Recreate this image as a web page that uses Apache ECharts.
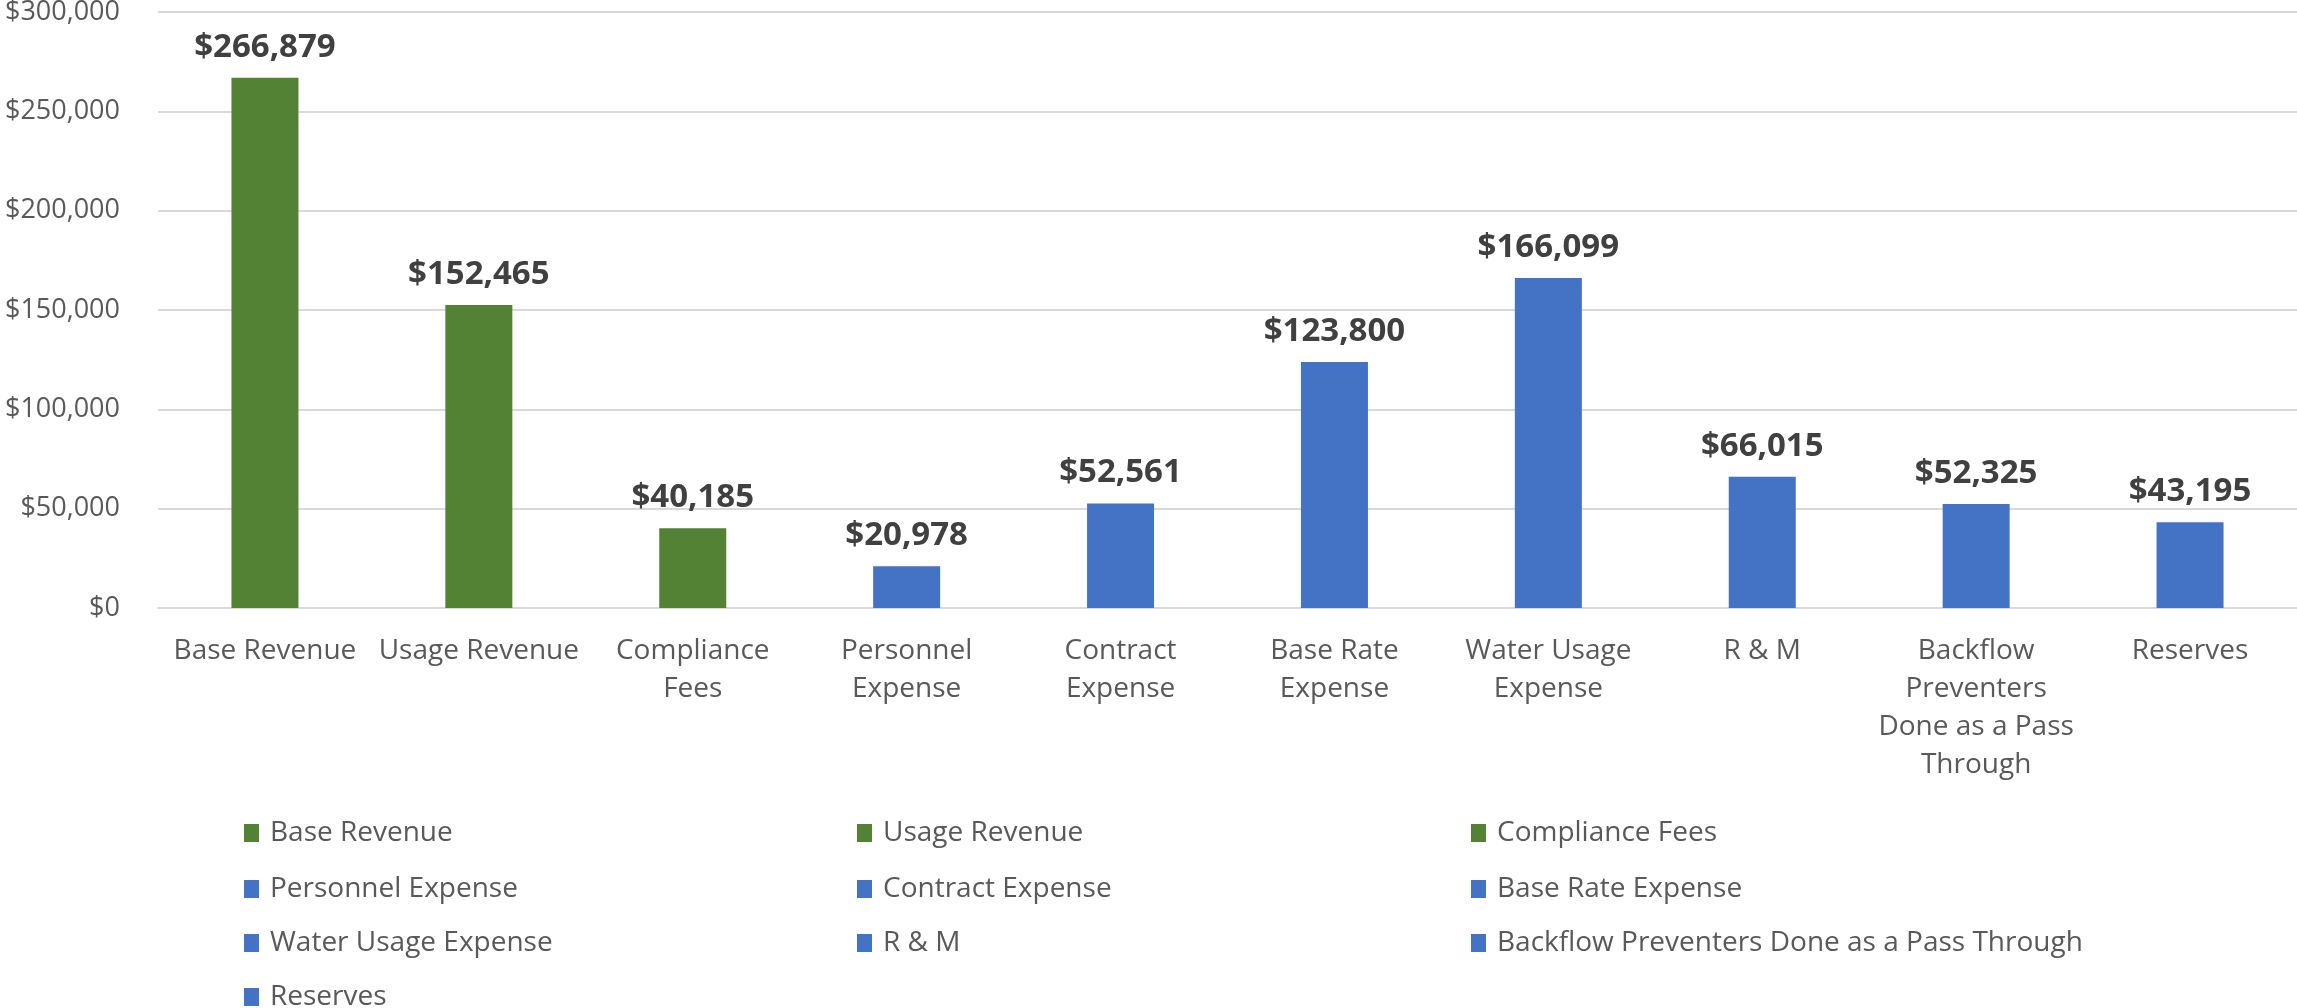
<!DOCTYPE html>
<html>
<head>
<meta charset="utf-8">
<script src="https://cdn.jsdelivr.net/npm/echarts@6/dist/echarts.min.js"></script>
<style>
  html, body { margin: 0; padding: 0; background: #fff; }
  #chart { width: 2297px; height: 1008px; }
</style>
</head>
<body>
<div id="chart"></div>
<script>
const categories = ['Base Revenue', 'Usage Revenue', 'Compliance Fees', 'Personnel Expense',
  'Contract Expense', 'Base Rate Expense', 'Water Usage Expense', 'R & M',
  'Backflow Preventers Done as a Pass Through', 'Reserves']
const tickLabels = ['Base Revenue', 'Usage Revenue', 'Compliance\nFees', 'Personnel\nExpense',
  'Contract\nExpense', 'Base Rate\nExpense', 'Water Usage\nExpense', 'R & M',
  'Backflow\nPreventers\nDone as a Pass\nThrough', 'Reserves']
const amounts = [266879, 152465, 40185, 20978, 52561, 123800, 166099, 66015, 52325, 43195]
const groups = ['revenue', 'revenue', 'revenue', 'expense', 'expense', 'expense', 'expense', 'expense', 'expense', 'expense']

const groupColor = { revenue: '#548235', expense: '#4472C4' }
const fontFamily = '"Open Sans", sans-serif'
const money = v => '$' + Math.round(v).toLocaleString('en-US')

// legend laid out as 3 columns like the original
const legendCols = [239, 852, 1466]
const legendRows = [814, 870, 924, 978]

const chart = echarts.init(document.getElementById('chart'))

const series = categories.map((name, i) => ({
  name,
  type: 'bar',
  stack: 'one',
  barWidth: 67,
  data: amounts.map((v, j) => (j === i ? v : null)),
  itemStyle: { color: groupColor[groups[i]] },
  label: {
    show: true,
    position: 'top',
    distance: 14,
    formatter: p => money(p.value),
    fontFamily,
    fontSize: 33,
    fontWeight: 'bold',
    color: '#404040'
  }
}))

const legends = categories.map((name, i) => ({
  data: [name],
  left: legendCols[i % 3],
  top: legendRows[Math.floor(i / 3)],
  itemWidth: 15,
  itemHeight: 18,
  icon: 'rect',
  selectedMode: false,
  textStyle: { fontFamily, fontSize: 28, color: '#595959', padding: [0, 0, 0, 6] }
}))

chart.setOption({
  animation: false,
  backgroundColor: '#fff',
  legend: legends,
  grid: { left: 158, right: 0, top: 12, bottom: 400, containLabel: false, outerBoundsMode: 'none' },
  xAxis: {
    type: 'category',
    data: categories,
    axisLine: { lineStyle: { color: '#D9D9D9', width: 2 } },
    axisTick: { show: false },
    axisLabel: {
      formatter: (v, i) => tickLabels[i],
      fontFamily,
      fontSize: 28,
      lineHeight: 38,
      color: '#595959',
      margin: 24,
      interval: 0
    }
  },
  yAxis: {
    type: 'value',
    min: 0,
    max: 300000,
    interval: 50000,
    axisLine: { show: false },
    axisTick: { show: false },
    splitLine: { lineStyle: { color: '#D9D9D9', width: 2 } },
    axisLabel: {
      formatter: v => money(v),
      fontFamily,
      fontSize: 27,
      color: '#595959',
      margin: 38
    }
  },
  series
})
</script>
</body>
</html>
